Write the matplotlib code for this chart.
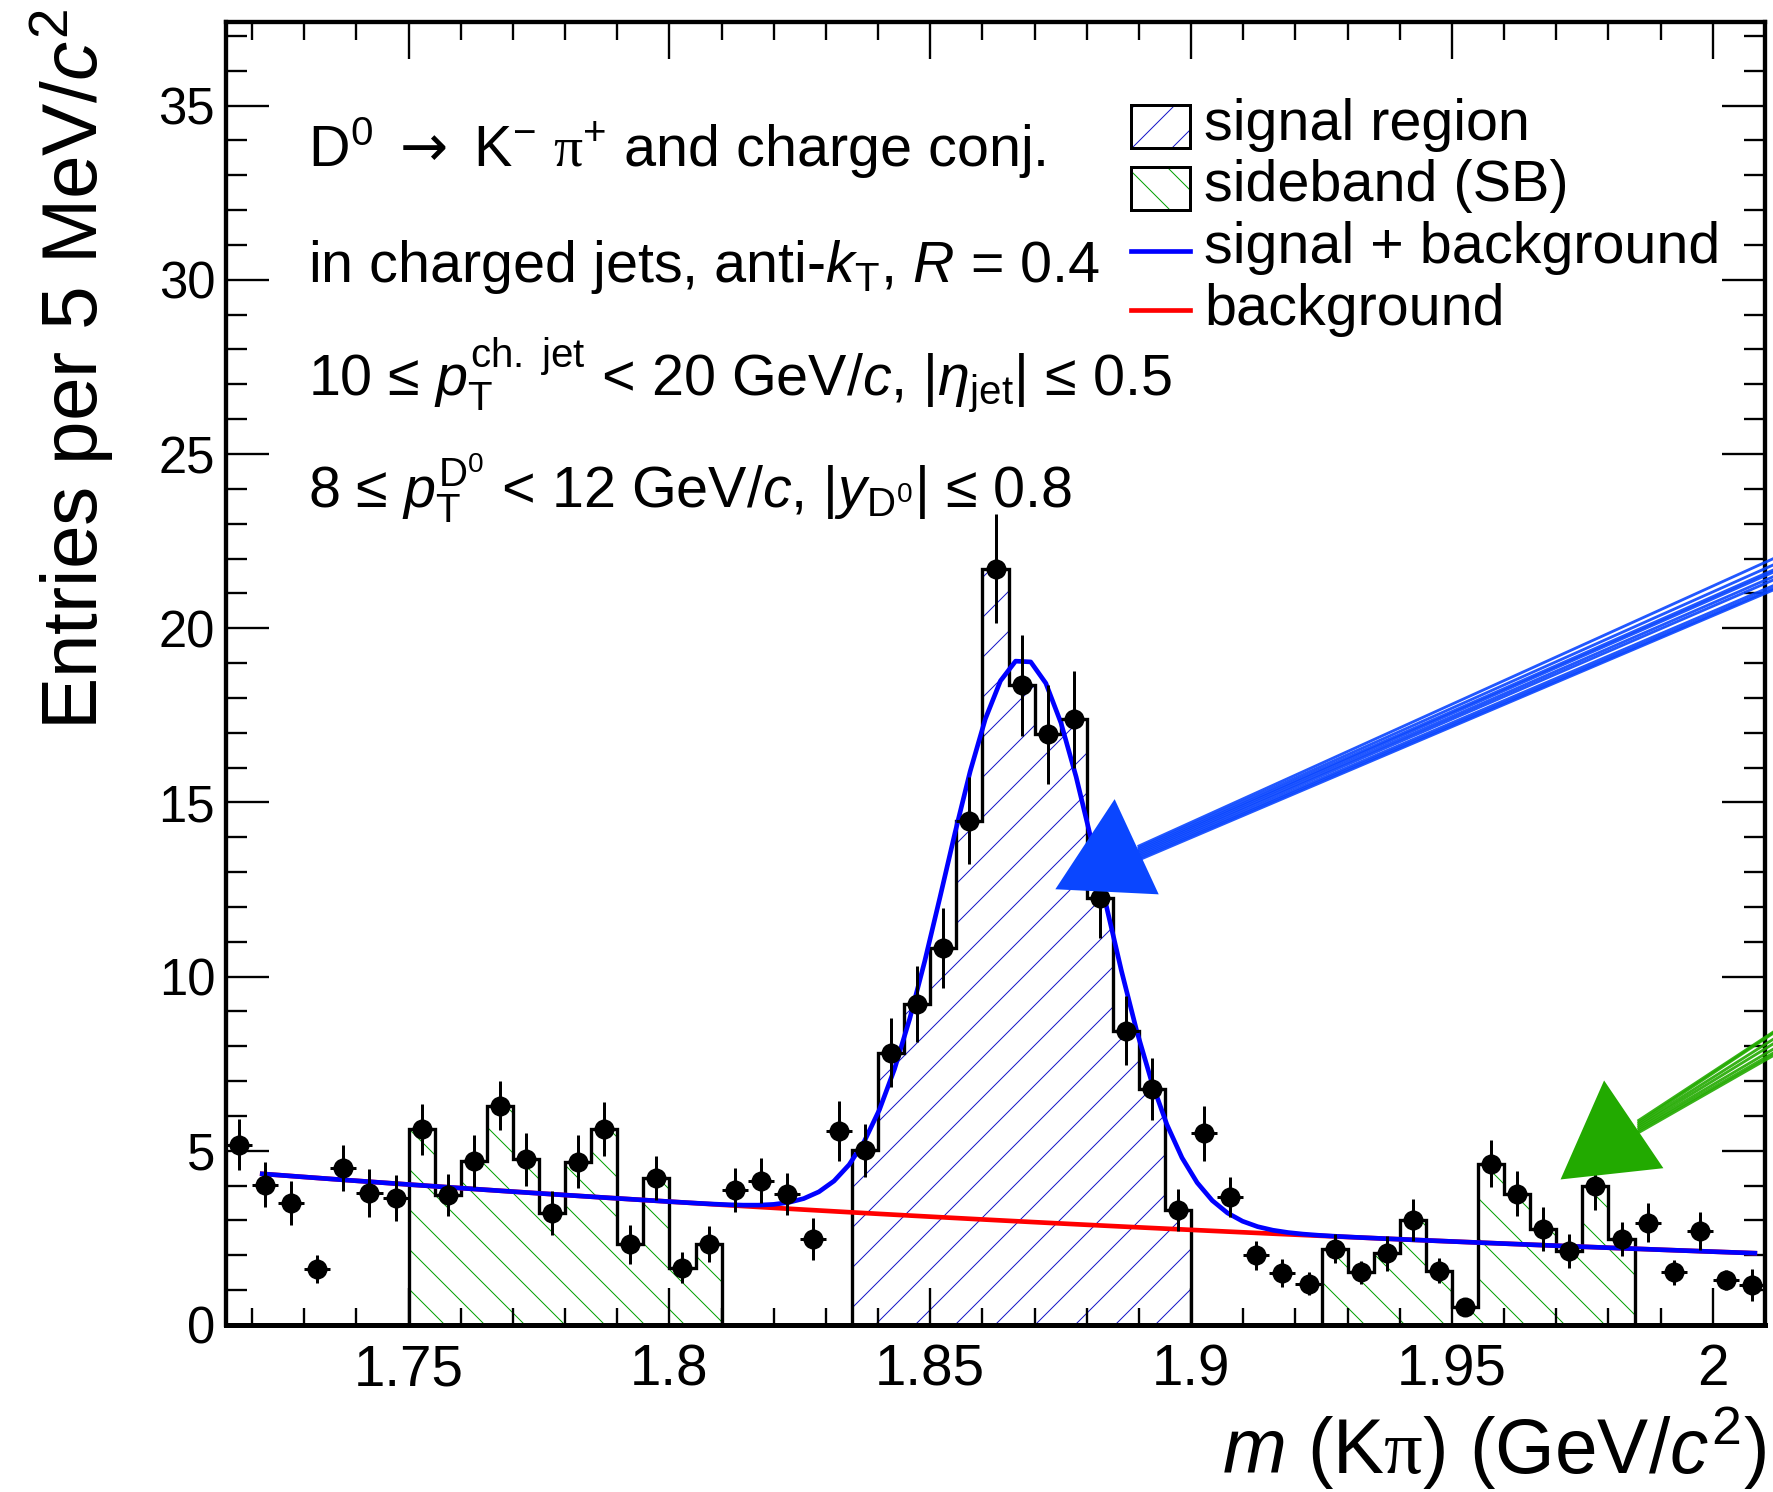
import numpy as np
import matplotlib
matplotlib.use("Agg")
import matplotlib.pyplot as plt
from matplotlib.ticker import MultipleLocator, FuncFormatter
from matplotlib.patches import Rectangle, Polygon
from matplotlib.lines import Line2D

# ---------------- data ----------------
mass_lo, mass_hi, bin_width = 1.715, 2.01, 0.005
counts = [5.18, 4.03, 3.50, 1.60, 4.50, 3.80, 3.64, 5.62, 3.72, 4.71,
          6.30, 4.76, 3.22, 4.69, 5.62, 2.32, 4.22, 1.65, 2.32, 3.88,
          4.14, 3.77, 2.47, 5.58, 5.01, 7.82, 9.22, 10.82, 14.48, 21.71,
          18.36, 16.95, 17.38, 12.27, 8.45, 6.77, 3.30, 5.50, 3.68, 2.00,
          1.49, 1.19, 2.19, 1.52, 2.06, 3.02, 1.56, 0.53, 4.63, 3.77,
          2.76, 2.13, 4.00, 2.47, 2.94, 1.51, 2.70, 1.30, 1.15]
errors = [0.72, 0.64, 0.63, 0.40, 0.66, 0.69, 0.66, 0.73, 0.60, 0.75,
          0.71, 0.76, 0.64, 0.75, 0.78, 0.56, 0.63, 0.44, 0.51, 0.64,
          0.65, 0.60, 0.60, 0.86, 0.77, 0.98, 1.09, 1.15, 1.24, 1.56,
          1.44, 1.43, 1.40, 1.15, 1.00, 0.90, 0.61, 0.78, 0.57, 0.42,
          0.40, 0.33, 0.42, 0.33, 0.50, 0.60, 0.35, 0.25, 0.67, 0.64,
          0.63, 0.48, 0.70, 0.48, 0.55, 0.37, 0.55, 0.29, 0.45]
sideband_left = (1.75, 1.81)
signal_region = (1.835, 1.90)
sideband_right = (1.925, 1.985)

# fit function parameters (Gaussian signal + exponential background)
fit_range = (1.7215, 2.0085)
bkg_ref_x, bkg_norm, bkg_slope = 1.72, 4.36, -2.60
sig_amp, sig_mean, sig_sigma = 16.15, 1.8678, 0.0150
fit_step = 0.0029

legend_labels = ["signal region", "sideband (SB)", "signal + background", "background"]
info_lines = [
    r"D$^{0}$ $\mathsf{\rightarrow}$ K$^{-}$ $\mathcal{\pi}^{+}$ and charge conj.",
    r"in charged jets, anti-$k_{\mathrm{T}}$, $R$ = 0.4",
    r"10 ≤ $p_{\mathrm{T}}^{\mathrm{ch.\ jet}}$ < 20 GeV/$c$, |$\eta_{\mathrm{jet}}$| ≤ 0.5",
    r"8 ≤ $p_{\mathrm{T}}^{\mathrm{D^{0}}}$ < 12 GeV/$c$, |$y_{\mathrm{D^{0}}}$| ≤ 0.8",
]
x_label = r"$m$ (K$\mathcal{\pi}$) (GeV/$c^{2}$)"
y_label = r"Entries per 5 MeV/$c^{2}$"

# annotation arrows (head triangle, shaft start/end) in data units
blue_head = [(1.8853, 15.02), (1.8744, 12.54), (1.8934, 12.40)]
blue_shaft = ((1.8900, 13.55), (2.0119, 21.5))
green_head = [(1.9792, 6.945), (1.9712, 4.22), (1.9901, 4.53)]
green_shaft = ((1.9858, 5.70), (2.0119, 8.10))

# ---------------- style ----------------
plt.rcParams["font.family"] = ["Liberation Sans", "DejaVu Sans"]
plt.rcParams["mathtext.fontset"] = "custom"
plt.rcParams["mathtext.rm"] = "Liberation Sans"
plt.rcParams["mathtext.it"] = "Liberation Sans:italic"
plt.rcParams["mathtext.bf"] = "Liberation Sans:bold"
plt.rcParams["mathtext.sf"] = "DejaVu Sans"
plt.rcParams["mathtext.cal"] = "Liberation Serif"
plt.rcParams["hatch.linewidth"] = 0.6

SIG_HATCH = "#1414c8"
SB_HATCH = "#00a000"
W, H, DPI = 1773, 1492, 120
fig = plt.figure(figsize=(W / DPI, H / DPI), dpi=DPI)
ax = fig.add_axes([226 / W, 1 - 1325 / H, (1765 - 226) / W, (1325 - 22) / H])

edges = np.round(np.linspace(mass_lo, mass_hi, len(counts) + 1), 4)
centers = 0.5 * (edges[:-1] + edges[1:])
counts = np.array(counts)
errors = np.array(errors)


def region(lo, hi):
    m = (edges[:-1] >= lo - 1e-9) & (edges[1:] <= hi + 1e-9)
    idx = np.where(m)[0]
    return counts[idx], edges[idx[0]: idx[-1] + 2]


for (lo, hi), hc, hp in [(sideband_left, SB_HATCH, "\\"),
                         (signal_region, SIG_HATCH, "/"),
                         (sideband_right, SB_HATCH, "\\")]:
    v, e = region(lo, hi)
    ax.stairs(v, e, baseline=0, fill=True, facecolor="none", edgecolor=hc,
              hatch=hp, linewidth=0, zorder=1)
    ax.stairs(v, e, baseline=0, fill=False, edgecolor="black", linewidth=2.0, zorder=2)

# fit curves
grid = sig_mean + (np.arange(-80, 80) + 0.5) * fit_step
grid = grid[(grid > fit_range[0]) & (grid < fit_range[1])]
xs = np.concatenate([[fit_range[0]], grid, [fit_range[1]]])
bkg = bkg_norm * np.exp(bkg_slope * (xs - bkg_ref_x))
tot = bkg + sig_amp * np.exp(-0.5 * ((xs - sig_mean) / sig_sigma) ** 2)
ax.plot(xs, bkg, color="#ff0000", lw=2.8, zorder=3, solid_capstyle="butt")
ax.plot(xs, tot, color="#0000ff", lw=2.8, zorder=4, solid_capstyle="butt")

ax.errorbar(centers, counts, yerr=errors, xerr=bin_width / 2, fmt="o", color="black",
            markersize=11, elinewidth=1.8, capsize=0, zorder=5)

ax.set_xlim(mass_lo, mass_hi)
ax.set_ylim(0, 37.4)
ax.xaxis.set_major_locator(MultipleLocator(0.05))
ax.xaxis.set_minor_locator(MultipleLocator(0.01))
ax.yaxis.set_major_locator(MultipleLocator(5))
ax.yaxis.set_minor_locator(MultipleLocator(1))
ax.xaxis.set_major_formatter(FuncFormatter(lambda v, p: f"{v:g}"))
ax.yaxis.set_major_formatter(FuncFormatter(lambda v, p: f"{v:g}"))
ax.tick_params(which="both", direction="in", top=True, right=True, width=1.4)
ax.tick_params(axis="y", which="major", length=26, labelsize=30.5, pad=6.5)
ax.tick_params(axis="y", which="minor", length=12.5)
ax.tick_params(axis="x", which="major", length=22, labelsize=34, pad=11)
ax.tick_params(axis="x", which="minor", length=10.5)
for s in ax.spines.values():
    s.set_linewidth(2.6)
ax.spines["bottom"].set_linewidth(3.0)

fig.text(72 / W, 1 - 9 / H, y_label, rotation=90, ha="center", va="top", fontsize=47)
fig.text(1766 / W, 1 - 1474 / H, x_label, ha="right", va="baseline", fontsize=46)

# info text
for t, yb in zip(info_lines, [0.8889, 0.8007, 0.7137, 0.627]):
    ax.text(0.053, yb, t, transform=ax.transAxes, fontsize=34.5, va="baseline", ha="left")

# legend (manual)
tr = ax.transAxes
bx, bw = 0.588, 0.0384
for y0, hc, hp in [(0.9033, SIG_HATCH, "/"), (0.8557, SB_HATCH, "\\")]:
    ax.add_patch(Rectangle((bx, y0), bw, 0.033, transform=tr, facecolor="none",
                           edgecolor=hc, hatch=hp, lw=0, zorder=6))
    ax.add_patch(Rectangle((bx, y0), bw, 0.033, transform=tr, facecolor="none",
                           edgecolor="black", lw=1.8, zorder=7))
for yl, c in [(0.8246, "#0000ff"), (0.7786, "#ff0000")]:
    ax.add_line(Line2D([bx, bx + bw], [yl, yl], transform=tr, color=c, lw=2.8, zorder=7))
for lab, yb in zip(legend_labels, [0.9094, 0.8626, 0.8147, 0.7678]):
    ax.text(0.6355, yb, lab, transform=tr, fontsize=34.5, va="baseline", ha="left")


# hand-drawn style arrows: bundle of strokes for the shaft plus a filled head
def sketch_arrow(head, shaft, color, spread_l, spread_r, n):
    (xl, yl), (xr, yr) = shaft
    for k in range(n):
        f = k / (n - 1) - 0.5
        ax.add_line(Line2D([xl, xr], [yl + f * spread_l, yr + f * spread_r * (1 + 0.15 * ((k % 3) - 1))],
                           color=color, lw=1.7, alpha=0.9, clip_on=False, zorder=8))
    ax.add_patch(Polygon(head, closed=True, facecolor=color, edgecolor=color, lw=1.5,
                         clip_on=False, zorder=8))


sketch_arrow(blue_head, blue_shaft, "#0a46ff", 0.40, 0.90, 9)
sketch_arrow(green_head, green_shaft, "#22aa00", 0.35, 0.80, 7)

fig.savefig("out.png", dpi=DPI)
